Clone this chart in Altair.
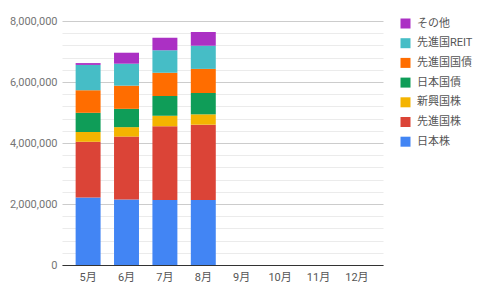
import altair as alt
import pandas as pd

months = ["5月", "6月", "7月", "8月", "9月", "10月", "11月", "12月"]
data_months = ["5月", "6月", "7月", "8月"]
series = ["日本株", "先進国株", "新興国株", "日本国債", "先進国国債", "先進国REIT", "その他"]
colors = ["#4285F4", "#DB4437", "#F4B400", "#0F9D58", "#FF6D00", "#46BDC6", "#AB30C4"]

jp_stock = [2210000, 2150000, 2130000, 2130000]
dev_stock = [1830000, 2060000, 2420000, 2470000]
em_stock = [320000, 310000, 340000, 340000]
jp_bond = [630000, 600000, 650000, 700000]
dev_bond = [740000, 760000, 760000, 790000]
dev_reit = [830000, 720000, 740000, 760000]
other = [60000, 360000, 410000, 450000]

series_values = [jp_stock, dev_stock, em_stock, jp_bond, dev_bond, dev_reit, other]

rows = []
for si, (name, vals) in enumerate(zip(series, series_values)):
    for m, v in zip(data_months, vals):
        rows.append({"month": m, "series": name, "value": v, "order": si})
df = pd.DataFrame(rows)

FONT = "Roboto, 'Noto Sans CJK JP', sans-serif"

chart = alt.Chart(df).mark_bar().encode(
    x=alt.X(
        "month:N",
        scale=alt.Scale(domain=months, paddingInner=0.35, paddingOuter=0.355),
        axis=alt.Axis(title=None, labelAngle=0, ticks=False, domainColor="#333333",
                      labelColor="#555555", labelFontSize=11, labelPadding=6, grid=False),
    ),
    y=alt.Y(
        "value:Q",
        stack="zero",
        scale=alt.Scale(domain=[0, 8000000], nice=False),
        axis=alt.Axis(
            title=None,
            values=list(range(0, 8000001, 400000)),
            labelExpr="datum.value % 2000000 === 0 ? format(datum.value, ',d') : ''",
            ticks=False,
            domain=False,
            labelColor="#757575",
            labelFontSize=11,
            labelPadding=5,
            gridColor={"condition": {"test": "datum.value % 2000000 === 0", "value": "#cccccc"},
                       "value": "#ebebeb"},
        ),
    ),
    color=alt.Color(
        "series:N",
        scale=alt.Scale(domain=series[::-1], range=colors[::-1]),
        legend=alt.Legend(
            title=None, orient="none", legendX=338, legendY=-3,
            symbolType="square", symbolSize=100, symbolStrokeWidth=0,
            labelFontSize=11, labelColor="#555555", rowPadding=7.7, padding=0,
            labelOffset=6, symbolOpacity=1,
        ),
    ),
    order=alt.Order("order:Q", sort="ascending"),
).properties(
    width=321, height=244,
    autosize=alt.AutoSizeParams(type="none"),
    padding={"left": 62, "top": 21, "right": 97, "bottom": 32},
).configure(font=FONT).configure_view(stroke=None).configure_axis(labelFont=FONT).configure_legend(labelFont=FONT)

chart.save("out.html", embed_options={"renderer": "svg", "actions": False})
